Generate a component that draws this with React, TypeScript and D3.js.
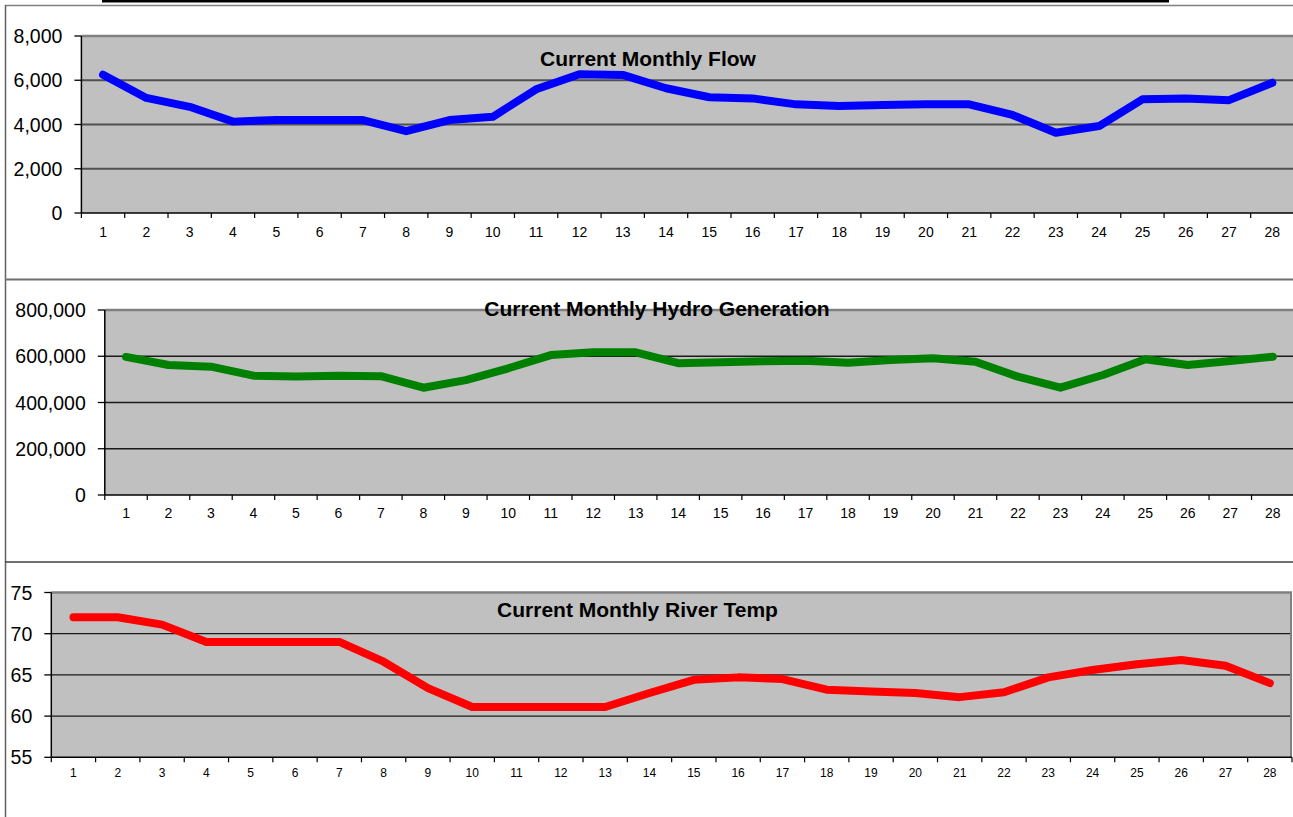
import * as d3 from 'd3';

// category labels shared by all three charts
const days = d3.range(1, 29).map(String);

const flowValues = [
  6250, 5200, 4800, 4130, 4200, 4200, 4200, 3700, 4200, 4350, 5590, 6270, 6240, 5640,
  5230, 5180, 4910, 4840, 4880, 4910, 4910, 4430, 3630, 3930, 5140, 5180, 5100, 5890,
];
const hydroValues = [
  597000, 562000, 555000, 516000, 512000, 516000, 514000, 464000, 497000, 548000, 605000,
  617000, 617000, 570000, 574000, 578000, 581000, 572000, 584000, 591000, 576000, 512000,
  464000, 519000, 587000, 562000, 579000, 598000,
];
const tempValues = [
  72, 72, 71.1, 69, 69, 69, 69, 66.6, 63.4, 61.1, 61.1, 61.1, 61.1, 62.8, 64.4, 64.7, 64.5,
  63.2, 63, 62.8, 62.3, 62.9, 64.7, 65.6, 66.3, 66.8, 66.1, 64,
];

const flowTicks = [0, 2000, 4000, 6000, 8000];
const hydroTicks = [0, 200000, 400000, 600000, 800000];
const tempTicks = [55, 60, 65, 70, 75];

const panels = [
  {
    title: 'Current Monthly Flow', values: flowValues, ticks: flowTicks, color: '#0000ff',
    left: 81.4, right: 1294, top: 36, bottom: 213, titleX: 648, titleY: 66,
    xFont: 14, xBase: 237, gridColor: '#505050', gridWidth: 2,
  },
  {
    title: 'Current Monthly Hydro Generation', values: hydroValues, ticks: hydroTicks, color: '#008000',
    left: 104.8, right: 1294, top: 310, bottom: 495, titleX: 657, titleY: 316,
    xFont: 14, xBase: 518, gridColor: '#1a1a1a', gridWidth: 1.3,
  },
  {
    title: 'Current Monthly River Temp', values: tempValues, ticks: tempTicks, color: '#ff0000',
    left: 51.3, right: 1292, top: 592.5, bottom: 757.3, titleX: 637.5, titleY: 617,
    xFont: 12, xBase: 777, gridColor: '#1a1a1a', gridWidth: 1.3,
  },
];

const fmt = d3.format(',');

function Panel({ p }) {
  const x = d3.scaleBand().domain(days).range([p.left, p.right]).padding(0);
  const y = d3
    .scaleLinear()
    .domain([p.ticks[0], p.ticks[p.ticks.length - 1]])
    .range([p.bottom, p.top]);
  const bw = x.bandwidth();
  const line = d3
    .line<number>()
    .x((_, i) => x(days[i]) + bw / 2)
    .y((d) => y(d));
  const boundaries = days.map((d) => x(d)).concat([p.right]);

  return (
    <g>
      <rect x={p.left} y={p.top} width={p.right - p.left} height={p.bottom - p.top} fill="#c0c0c0" />
      {p.ticks.slice(1, -1).map((t) => (
        <line key={t} x1={p.left} x2={p.right} y1={y(t)} y2={y(t)} stroke={p.gridColor} strokeWidth={p.gridWidth} />
      ))}
      <line x1={p.left} x2={p.right} y1={p.top} y2={p.top} stroke="#808080" strokeWidth={2.5} />
      {p.right < 1293 && (
        <line x1={p.right - 1} x2={p.right - 1} y1={p.top} y2={p.bottom} stroke="#808080" strokeWidth={2} />
      )}
      <line x1={p.left} x2={p.right} y1={p.bottom} y2={p.bottom} stroke="#000" strokeWidth={1.5} />
      <line x1={p.left} x2={p.left} y1={p.top} y2={p.bottom} stroke="#000" strokeWidth={1.5} />
      {p.ticks.map((t) => (
        <g key={t}>
          <line x1={p.left - 7} x2={p.left} y1={y(t)} y2={y(t)} stroke="#000" strokeWidth={1.3} />
          <text x={p.left - 19} y={y(t)} dy="0.36em" textAnchor="end" fontSize={19.5} fill="#000">
            {fmt(t)}
          </text>
        </g>
      ))}
      {boundaries.map((b, i) => (
        <line key={i} x1={b} x2={b} y1={p.bottom} y2={p.bottom + 5} stroke="#000" strokeWidth={1.2} />
      ))}
      {days.map((d) => (
        <text key={d} x={x(d) + bw / 2} y={p.xBase} textAnchor="middle" fontSize={p.xFont} fill="#000">
          {d}
        </text>
      ))}
      <path d={line(p.values)} fill="none" stroke={p.color} strokeWidth={8} strokeLinecap="round" strokeLinejoin="round" />
      <text x={p.titleX} y={p.titleY} textAnchor="middle" fontSize={21} fontWeight="bold" fill="#000">
        {p.title}
      </text>
    </g>
  );
}

export default function App() {
  return (
    <svg
      width={1293}
      height={817}
      style={{ position: 'absolute', left: 0, top: 0, background: '#fff' }}
      fontFamily="Arial, 'Liberation Sans', sans-serif"
    >
      <line x1={102} x2={1169} y1={1} y2={1} stroke="#000" strokeWidth={3} />
      <line x1={5} x2={1293} y1={5.5} y2={5.5} stroke="#808080" strokeWidth={1.5} />
      <line x1={5.5} x2={5.5} y1={5} y2={817} stroke="#606060" strokeWidth={1.5} />
      <line x1={5} x2={1293} y1={279.5} y2={279.5} stroke="#707070" strokeWidth={1.8} />
      <line x1={5} x2={1293} y1={562} y2={562} stroke="#404040" strokeWidth={1.5} />
      {panels.map((p) => (
        <Panel key={p.title} p={p} />
      ))}
    </svg>
  );
}
